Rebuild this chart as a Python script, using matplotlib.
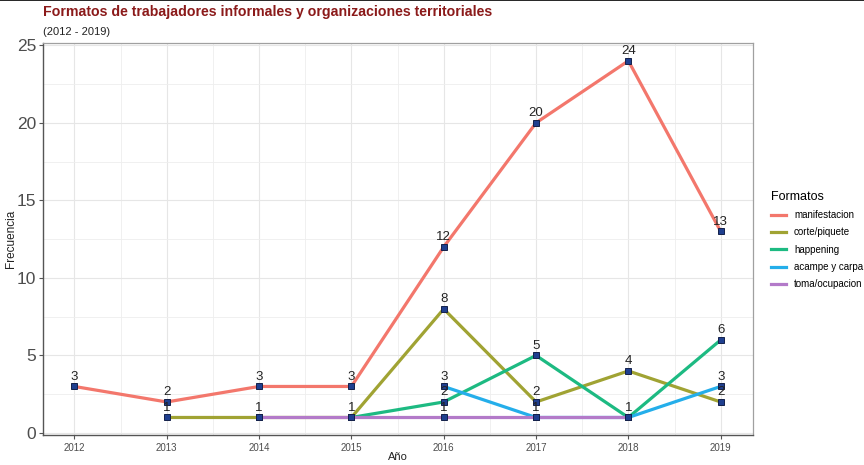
import numpy as np
import matplotlib
matplotlib.use("Agg")
import matplotlib.pyplot as plt
from matplotlib.lines import Line2D

plt.rcParams['font.family'] = ['Liberation Sans', 'DejaVu Sans']

years = [2012, 2013, 2014, 2015, 2016, 2017, 2018, 2019]
nan = np.nan
manifestacion = [3, 2, 3, 3, 12, 20, 24, 13]
corte_piquete = [nan, 1, 1, 1, 8, 2, 4, 2]
happening = [nan, nan, nan, 1, 2, 5, 1, 6]
acampe_carpa = [nan, nan, nan, nan, 3, 1, 1, 3]
toma_ocupacion = [nan, nan, 1, 1, 1, 1, 1, nan]

series_names = ["manifestacion", "corte/piquete", "happening",
                "acampe y carpa", "toma/ocupacion"]
series_values = [manifestacion, corte_piquete, happening,
                 acampe_carpa, toma_ocupacion]
colors = ["#F3776C", "#A0A333", "#1DBA82", "#24AEEA", "#B37AC9"]

fig = plt.figure(figsize=(8.64, 4.65), dpi=100)
ax = fig.add_axes([43 / 864, 1 - 435 / 465, 710 / 864, 392 / 465])

# grid
ax.set_axisbelow(True)
ax.set_xticks(np.arange(2011.5, 2020, 1), minor=True)
ax.set_yticks(np.arange(2.5, 25, 5), minor=True)
ax.grid(which='major', color='#e6e6e6', linewidth=0.8)
ax.grid(which='minor', color='#eeeeee', linewidth=0.6)

# lines
for name, vals, c in zip(series_names, series_values, colors):
    ax.plot(years, vals, color=c, linewidth=2.3, label=name, zorder=2,
            solid_capstyle='butt')

# points + labels (one label per position so overlaps don't look bold)
seen = set()
for vals in series_values:
    for x, y in zip(years, vals):
        if np.isnan(y):
            continue
        ax.plot(x, y, marker='s', markersize=4.8, markerfacecolor='#1f3f8f',
                markeredgecolor='#14214a', markeredgewidth=0.7, zorder=3)
        if (x, y) in seen:
            continue
        seen.add((x, y))
        ax.annotate(f"{int(y)}", (x, y), xytext=(0, 2.5), textcoords='offset points',
                    ha='center', va='bottom', fontsize=9.5, color='#222222', zorder=4)

ax.set_xlim(2011.66, 2019.35)
ax.set_ylim(-0.13, 25.15)
ax.set_xticks(years)
ax.set_yticks([0, 5, 10, 15, 20, 25])
ax.tick_params(axis='x', which='major', labelsize=7, labelcolor='#4d4d4d',
               length=3, color='#555555', pad=3)
ax.tick_params(axis='y', which='major', labelsize=12.5, labelcolor='#4d4d4d',
               length=3, color='#555555', pad=2)
ax.tick_params(which='minor', length=0)

for side in ['top', 'right']:
    ax.spines[side].set_color('#a0a0a0')
    ax.spines[side].set_linewidth(0.9)
for side in ['left', 'bottom']:
    ax.spines[side].set_color('#555555')
    ax.spines[side].set_linewidth(1.0)

ax.set_xlabel("Año", fontsize=8, color='#222222')
ax.set_ylabel("Frecuencia", fontsize=8.5, color='#222222')
ax.xaxis.set_label_coords(0.5, -0.044)
ax.yaxis.set_label_coords(-0.036, 0.5)

# legend
handles = [Line2D([0], [0], color=c, linewidth=2.3) for c in colors]
leg = fig.legend(handles, series_names, title="Formatos", loc='upper left',
                 bbox_to_anchor=(762 / 864, 1 - 182 / 465), frameon=False,
                 fontsize=7, title_fontsize=9, handlelength=1.6,
                 handletextpad=0.8, labelspacing=0.75)
leg._legend_box.align = "left"

# titles
fig.text(43 / 864, 1 - 12 / 465, "Formatos de trabajadores informales y organizaciones territoriales",
         fontsize=10.2, fontweight='bold', color='#8B1A1A', va='center', ha='left')
fig.text(43 / 864, 1 - 32 / 465, "(2012 - 2019)", fontsize=8, color='#222222',
         va='center', ha='left')

fig.add_artist(Line2D([0, 1], [1 - 0.5 / 465, 1 - 0.5 / 465], color='black',
                      linewidth=1.2, transform=fig.transFigure))

fig.savefig("out.png", dpi=100)
